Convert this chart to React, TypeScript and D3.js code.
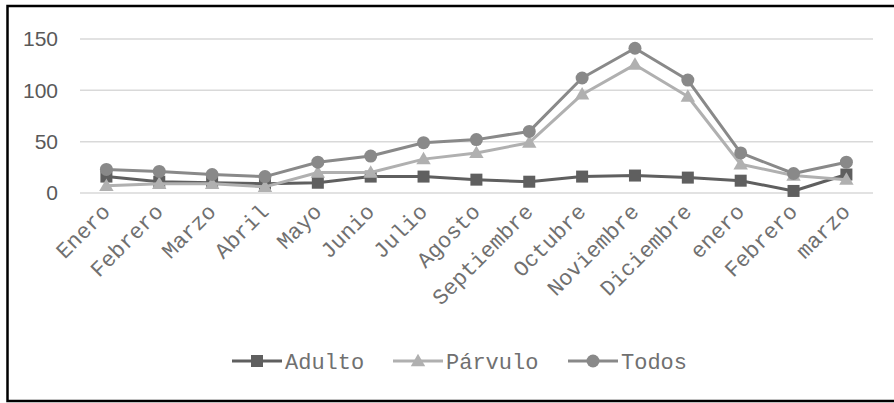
import React from "react";
import * as d3 from "d3";

const categories = ["Enero", "Febrero", "Marzo", "Abril", "Mayo", "Junio", "Julio", "Agosto", "Septiembre", "Octubre", "Noviembre", "Diciembre", "enero", "Febrero", "marzo"];
const adulto = [16, 11, 10, 9, 10, 16, 16, 13, 11, 16, 17, 15, 12, 2, 18];
const parvulo = [7, 9, 9, 6, 20, 20, 33, 39, 49, 96, 125, 94, 28, 17, 13];
const todos = [23, 21, 18, 16, 30, 36, 49, 52, 60, 112, 141, 110, 39, 19, 30];
const yTicks = [0, 50, 100, 150];

const seriesList = [
  { name: "Adulto", values: adulto, color: "#5f5f5f", marker: "square" },
  { name: "Párvulo", values: parvulo, color: "#b0b0b0", marker: "triangle" },
  { name: "Todos", values: todos, color: "#898989", marker: "circle" },
];

const W = 894;
const H = 403;
const mono = "'Liberation Mono', 'Courier New', monospace";
const sans = "'Liberation Sans', Arial, sans-serif";

function Marker({ type, x, y, color }: { type: string; x: number; y: number; color: string }) {
  if (type === "square") return <rect x={x - 6} y={y - 6} width={12} height={12} fill={color} />;
  if (type === "circle") return <circle cx={x} cy={y} r={6.5} fill={color} />;
  const sym = d3.symbol().type(d3.symbolTriangle).size(90)();
  return <path d={sym || ""} transform={`translate(${x},${y + 1})`} fill={color} />;
}

export default function App() {
  const x = d3.scalePoint<number>().domain(d3.range(categories.length)).range([106.4, 846.4]);
  const y = d3.scaleLinear().domain([0, 150]).range([193, 39]);
  const line = d3.line<number>().x((_, i) => x(i)!).y((d) => y(d));

  const legendItems = [
    { x: 232, ...seriesList[0] },
    { x: 393, ...seriesList[1] },
    { x: 568, ...seriesList[2] },
  ];

  return (
    <svg width={W} height={H} style={{ position: "absolute", left: 0, top: 0, background: "#fff" }}>
      <rect x={0} y={0} width={W} height={H} fill="#fff" />
      <rect x={7.5} y={6} width={W + 10} height={395} fill="none" stroke="#000" strokeWidth={2.5} />
      {yTicks.map((t) => (
        <g key={t}>
          <line x1={80} x2={873} y1={y(t)} y2={y(t)} stroke="#d9d9d9" strokeWidth={1.5} />
          <text x={58} y={y(t)} dy="0.35em" textAnchor="end" fontFamily={sans} fontSize={21} fill="#595959">
            {t}
          </text>
        </g>
      ))}
      {categories.map((c, i) => (
        <text
          key={i}
          transform={`translate(${x(i)! + 5},${213}) rotate(-45)`}
          textAnchor="end"
          fontFamily={mono}
          fontSize={22}
          fill="#707070"
        >
          {c}
        </text>
      ))}
      {seriesList.map((s) => (
        <g key={s.name}>
          <path d={line(s.values) || ""} fill="none" stroke={s.color} strokeWidth={3} strokeLinejoin="round" />
          {s.values.map((v, i) => (
            <Marker key={i} type={s.marker} x={x(i)!} y={y(v)} color={s.color} />
          ))}
        </g>
      ))}
      {legendItems.map((l) => (
        <g key={l.name}>
          <line x1={l.x} x2={l.x + 50} y1={361} y2={361} stroke={l.color} strokeWidth={3} />
          <Marker type={l.marker} x={l.x + 25} y={361} color={l.color} />
          <text x={l.x + 53} y={361} dy="0.35em" fontFamily={mono} fontSize={22} fill="#707070">
            {l.name}
          </text>
        </g>
      ))}
    </svg>
  );
}
